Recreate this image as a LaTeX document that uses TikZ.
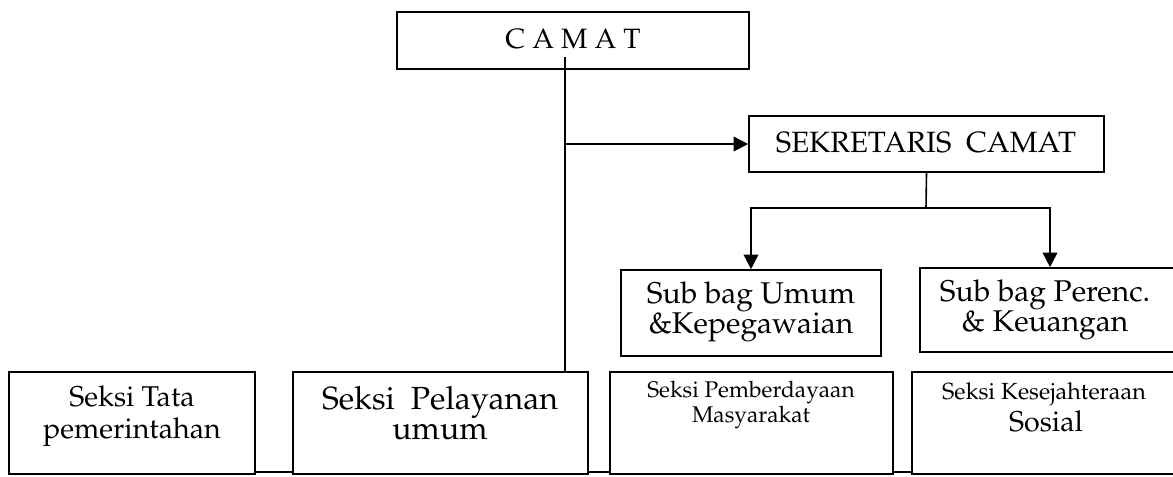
\documentclass[tikz,border=0pt]{standalone}
\usepackage[T1]{fontenc}
\renewcommand{\rmdefault}{ppl}
\usetikzlibrary{arrows.meta,fit,backgrounds}
\newcommand{\fsz}[2]{\fontsize{#1}{#2}\selectfont}
\begin{document}
\begin{tikzpicture}[x=0.75pt,y=-0.75pt,
  box/.style={draw=black,line width=1.2pt,fill=white,inner sep=0pt},
  lbl/.style={align=center,inner sep=0pt,text=black},
  link/.style={draw=black,line width=1.2pt},
  arr/.style={link,-{Triangle[length=11pt,width=11pt]}}]
\useasboundingbox (0,0) rectangle (1173,476);

% head of the district
\node[box,fit={(397,12) (749,69)}] (camat) {};
\node[lbl,font=\fsz{21}{24}] (camatt) at (573,39) {C A M A T};

% secretary
\node[box,fit={(749,116) (1104,172)}] (sek) {};
\node[lbl,font=\fsz{22}{24}] (sekt) at (926,143) {SEKRETARIS\ \ CAMAT};

% sub-divisions under the secretary
\node[box,fit={(621,270) (881,356)}] (ub1) {};
\node[lbl,font=\fsz{22.5}{23}] (ub1t) at (751,312) {Sub bag Umum\\\&Kepegawaian};
\node[box,fit={(920,268) (1180,352)}] (ub2) {};
\node[lbl,font=\fsz{22.5}{23}] (ub2t) at (1045,310) {Sub bag Perenc.\\\& Keuangan};

% sections
\node[box,fit={(9,372) (255,474)}] (s1) {};
\node[lbl,font=\fsz{21.5}{23.5}] (s1t) at (132,416) {Seksi Tata\\pemerintahan};
\node[box,fit={(293,372) (588,474)}] (s2) {};
\node[lbl,font=\fsz{24}{23}] (s2t) at (440,413) {Seksi\ \ Pelayanan\\umum};
\node[box,fit={(610,372) (893,474)}] (s3) {};
\node[lbl,font=\fsz{17}{19}] (s3t) at (751,405) {Seksi Pemberdayaan\\Masyarakat};
\node[box,fit={(912,372) (1180,474)}] (s4) {};
\node[lbl,font=\fsz{17.5}{19}] (s4a) at (1044,394) {Seksi Kesejahteraan};
\node[lbl,font=\fsz{21.5}{22}] (s4b) at (1046,421) {Sosial};

% connectors
\coordinate (ctop) at (565,57);
\draw[link] (ctop) -- (ctop |- s2.north);
\draw[arr] (ctop |- sek.west) -- (sek.west);
\coordinate (split) at (926,208);
\draw[link] (sek.south) -- (split);
\draw[arr] (split) -| (ub1.north);
\draw[arr] (split) -| (ub2.north);
\begin{scope}[on background layer]
\draw[link] ([yshift=2.25pt]s1.south east) -- ([yshift=2.25pt]s4.south west);
\end{scope}
\end{tikzpicture}
\end{document}
